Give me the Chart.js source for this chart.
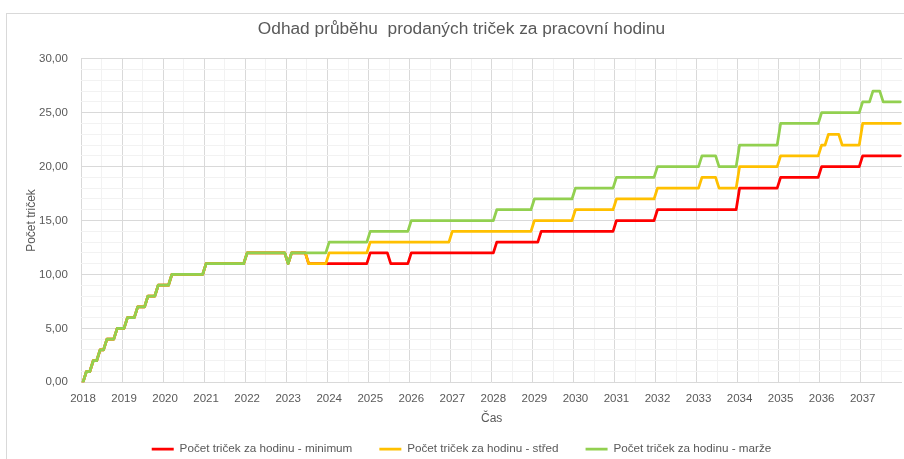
<!DOCTYPE html>
<html>
<head>
<meta charset="utf-8">
<script src="https://cdn.jsdelivr.net/npm/chart.js@4.4.1/dist/chart.umd.min.js"></script>
<style>
  html, body { margin: 0; padding: 0; background: #fff; overflow: hidden; }
  #frame { position: absolute; left: 6px; top: 13px; width: 960px; height: 520px; border: 1px solid #d9d9d9; }
  #wrap { position: absolute; left: 0; top: 0; width: 904px; height: 459px; }
</style>
</head>
<body>
<div id="frame"></div>
<div id="wrap"><canvas id="chart"></canvas></div>
<script>
// months 2018-01 .. 2037-12
const years = ['2018','2019','2020','2021','2022','2023','2024','2025','2026','2027',
               '2028','2029','2030','2031','2032','2033','2034','2035','2036','2037'];
const months = ['01','02','03','04','05','06','07','08','09','10','11','12'];
const categories = [];
years.forEach(y => months.forEach(m => categories.push(y + '-' + m)));

const minimum = [
  0,1,1,2,2,3,3,4,4,4,5,5,
  5,6,6,6,7,7,7,8,8,8,9,9,
  9,9,10,10,10,10,10,10,10,10,10,10,
  11,11,11,11,11,11,11,11,11,11,11,11,
  12,12,12,12,12,12,12,12,12,12,12,12,
  11,12,12,12,12,12,11,11,11,11,11,11,
  11,11,11,11,11,11,11,11,11,11,11,11,
  12,12,12,12,12,12,11,11,11,11,11,11,
  12,12,12,12,12,12,12,12,12,12,12,12,
  12,12,12,12,12,12,12,12,12,12,12,12,
  12,13,13,13,13,13,13,13,13,13,13,13,
  13,13,14,14,14,14,14,14,14,14,14,14,
  14,14,14,14,14,14,14,14,14,14,14,14,
  15,15,15,15,15,15,15,15,15,15,15,15,
  16,16,16,16,16,16,16,16,16,16,16,16,
  16,16,16,16,16,16,16,16,16,16,16,16,
  18,18,18,18,18,18,18,18,18,18,18,18,
  19,19,19,19,19,19,19,19,19,19,19,19,
  20,20,20,20,20,20,20,20,20,20,20,20,
  21,21,21,21,21,21,21,21,21,21,21,21
];

const stred = [
  0,1,1,2,2,3,3,4,4,4,5,5,
  5,6,6,6,7,7,7,8,8,8,9,9,
  9,9,10,10,10,10,10,10,10,10,10,10,
  11,11,11,11,11,11,11,11,11,11,11,11,
  12,12,12,12,12,12,12,12,12,12,12,12,
  11,12,12,12,12,12,11,11,11,11,11,11,
  12,12,12,12,12,12,12,12,12,12,12,12,
  13,13,13,13,13,13,13,13,13,13,13,13,
  13,13,13,13,13,13,13,13,13,13,13,13,
  14,14,14,14,14,14,14,14,14,14,14,14,
  14,14,14,14,14,14,14,14,14,14,14,14,
  15,15,15,15,15,15,15,15,15,15,15,15,
  16,16,16,16,16,16,16,16,16,16,16,16,
  17,17,17,17,17,17,17,17,17,17,17,17,
  18,18,18,18,18,18,18,18,18,18,18,18,
  18,19,19,19,19,19,18,18,18,18,18,18,
  20,20,20,20,20,20,20,20,20,20,20,20,
  21,21,21,21,21,21,21,21,21,21,21,21,
  22,22,23,23,23,23,22,22,22,22,22,22,
  24,24,24,24,24,24,24,24,24,24,24,24
];

const marze = [
  0,1,1,2,2,3,3,4,4,4,5,5,
  5,6,6,6,7,7,7,8,8,8,9,9,
  9,9,10,10,10,10,10,10,10,10,10,10,
  11,11,11,11,11,11,11,11,11,11,11,11,
  12,12,12,12,12,12,12,12,12,12,12,12,
  11,12,12,12,12,12,12,12,12,12,12,12,
  13,13,13,13,13,13,13,13,13,13,13,13,
  14,14,14,14,14,14,14,14,14,14,14,14,
  15,15,15,15,15,15,15,15,15,15,15,15,
  15,15,15,15,15,15,15,15,15,15,15,15,
  15,16,16,16,16,16,16,16,16,16,16,16,
  17,17,17,17,17,17,17,17,17,17,17,17,
  18,18,18,18,18,18,18,18,18,18,18,18,
  19,19,19,19,19,19,19,19,19,19,19,19,
  20,20,20,20,20,20,20,20,20,20,20,20,
  20,21,21,21,21,21,20,20,20,20,20,20,
  22,22,22,22,22,22,22,22,22,22,22,22,
  24,24,24,24,24,24,24,24,24,24,24,24,
  25,25,25,25,25,25,25,25,25,25,25,25,
  26,26,26,27,27,27,26,26,26,26,26,26
];

const textColor = '#595959';
const majorGrid = '#d9d9d9';
const minorGrid = '#f2f2f2';
const fontFamily = '"Liberation Sans", Arial, sans-serif';

const ctx = document.getElementById('chart').getContext('2d');
new Chart(ctx, {
  type: 'line',
  data: {
    labels: categories,
    datasets: [{
      label: 'Počet triček za hodinu - minimum',
      data: minimum,
      borderColor: '#ff0000',
      backgroundColor: '#ff0000',
      order: 3
    }, {
      label: 'Počet triček za hodinu - střed',
      data: stred,
      borderColor: '#ffc000',
      backgroundColor: '#ffc000',
      order: 2
    }, {
      label: 'Počet triček za hodinu - marže',
      data: marze,
      borderColor: '#92d050',
      backgroundColor: '#92d050',
      order: 1
    }]
  },
  options: {
    responsive: true,
    maintainAspectRatio: false,
    animation: false,
    layout: { padding: { left: 21, right: 2, top: 0, bottom: -6 } },
    elements: {
      // point borderWidth also sets the legend line thickness
      point: { radius: 0, hoverRadius: 0, borderWidth: 2.75 },
      line: { borderWidth: 2.75, tension: 0, borderJoinStyle: 'round', borderCapStyle: 'round', fill: false }
    },
    plugins: {
      title: {
        display: true,
        text: 'Odhad průběhu  prodaných triček za pracovní hodinu',
        color: textColor,
        font: { family: fontFamily, size: 17.3, weight: 'normal' },
        padding: { top: 19, bottom: 19 }
      },
      legend: {
        position: 'bottom',
        labels: {
          color: textColor,
          font: { family: fontFamily, size: 11.7 },
          usePointStyle: true,
          pointStyle: 'line',
          pointStyleWidth: 22,
          padding: 27,
          sort: (a, b) => a.datasetIndex - b.datasetIndex
        }
      },
      tooltip: { enabled: false }
    },
    scales: {
      x: {
        offset: true,
        grid: {
          offset: true,
          drawTicks: true,
          tickLength: 10,
          tickColor: 'rgba(0,0,0,0)',
          color: c => (c.index % 12 === 0 ? majorGrid : (c.index % 6 === 0 ? minorGrid : 'rgba(0,0,0,0)'))
        },
        border: { display: false },
        ticks: {
          autoSkip: false,
          maxRotation: 0,
          minRotation: 0,
          padding: 0,
          color: textColor,
          font: { family: fontFamily, size: 11.5 },
          callback: function (value, index) {
            return index % 12 === 0 ? years[index / 12] : '';
          }
        },
        title: {
          display: true,
          text: 'Čas',
          color: textColor,
          font: { family: fontFamily, size: 12 },
          padding: { top: 5.7, bottom: -9.9 }
        }
      },
      y: {
        min: 0,
        max: 30,
        grid: {
          drawTicks: false,
          color: c => (c.tick && c.tick.value % 5 === 0 ? majorGrid : minorGrid)
        },
        border: { display: false },
        ticks: {
          stepSize: 1,
          autoSkip: false,
          padding: 13.5,
          color: textColor,
          font: { family: fontFamily, size: 11.5 },
          callback: v => (v % 5 === 0 ? v.toFixed(2).replace('.', ',') : '')
        },
        title: {
          display: true,
          text: 'Počet triček',
          color: textColor,
          font: { family: fontFamily, size: 12 },
          padding: { top: 3.8, bottom: -13.7 }
        }
      }
    }
  }
});
</script>
</body>
</html>
